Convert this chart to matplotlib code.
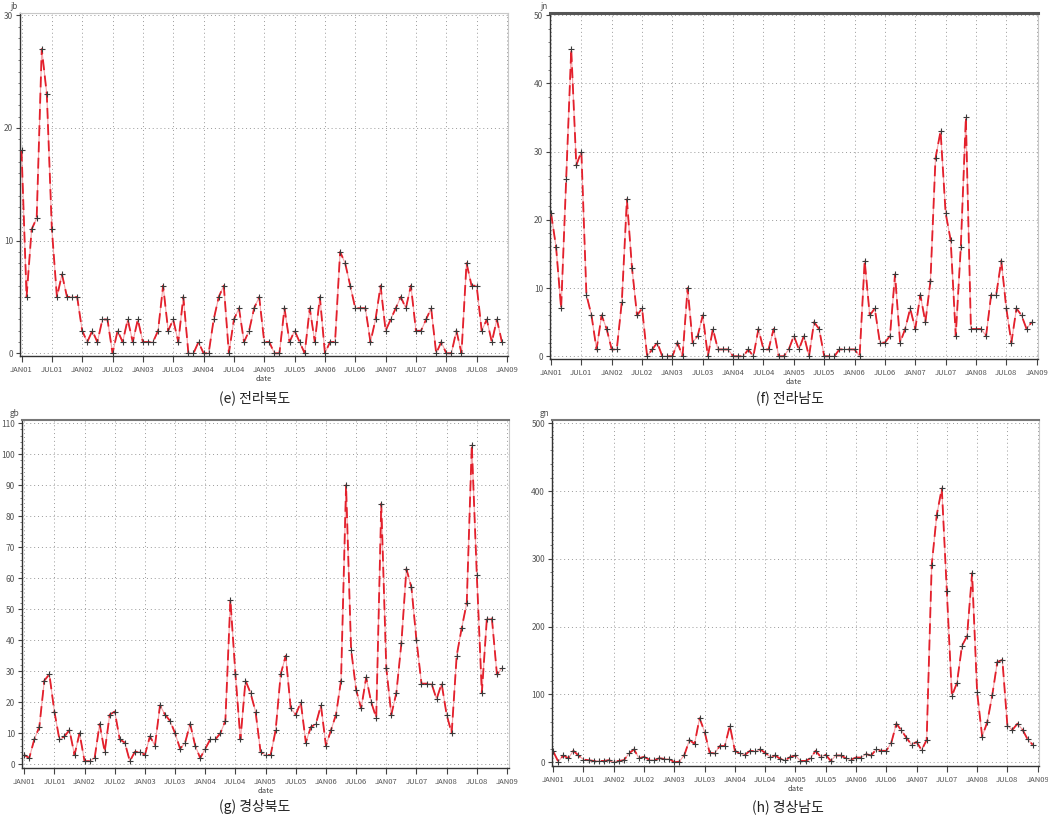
import matplotlib
matplotlib.use("Agg")
import matplotlib.pyplot as plt
from matplotlib.ticker import MultipleLocator, FixedLocator

plt.rcParams['font.family'] = ['Noto Sans CJK KR', 'DejaVu Sans']

# month index 0 = JAN01 ... 95 = DEC08
tick_pos = [0, 6, 12, 18, 24, 30, 36, 42, 48, 54, 60, 66, 72, 78, 84, 90, 96]
tick_labels = ["JAN01", "JUL01", "JAN02", "JUL02", "JAN03", "JUL03", "JAN04", "JUL04",
               "JAN05", "JUL05", "JAN06", "JUL06", "JAN07", "JUL07", "JAN08", "JUL08", "JAN09"]

jb = [18, 5, 11, 12, 27, 23, 11, 5, 7, 5, 5, 5,
      2, 1, 2, 1, 3, 3, 0, 2, 1, 3, 1, 3,
      1, 1, 1, 2, 6, 2, 3, 1, 5, 0, 0, 1,
      0, 0, 3, 5, 6, 0, 3, 4, 1, 2, 4, 5,
      1, 1, 0, 0, 4, 1, 2, 1, 0, 4, 1, 5,
      0, 1, 1, 9, 8, 6, 4, 4, 4, 1, 3, 6,
      2, 3, 4, 5, 4, 6, 2, 2, 3, 4, 0, 1,
      0, 0, 2, 0, 8, 6, 6, 2, 3, 1, 3, 1]

jn = [21, 16, 7, 26, 45, 28, 30, 9, 6, 1, 6, 4,
      1, 1, 8, 23, 13, 6, 7, 0, 1, 2, 0, 0,
      0, 2, 0, 10, 2, 3, 6, 0, 4, 1, 1, 1,
      0, 0, 0, 1, 0, 4, 1, 1, 4, 0, 0, 1,
      3, 1, 3, 0, 5, 4, 0, 0, 0, 1, 1, 1,
      1, 0, 14, 6, 7, 2, 2, 3, 12, 2, 4, 7,
      4, 9, 5, 11, 29, 33, 21, 17, 3, 16, 35, 4,
      4, 4, 3, 9, 9, 14, 7, 2, 7, 6, 4, 5]

gb = [3, 2, 8, 12, 27, 29, 17, 8, 9, 11, 3, 10,
      1, 1, 2, 13, 4, 16, 17, 8, 7, 1, 4, 4,
      3, 9, 6, 19, 16, 14, 10, 5, 7, 13, 6, 2,
      5, 8, 8, 10, 14, 53, 29, 8, 27, 23, 17, 4,
      3, 3, 11, 29, 35, 18, 16, 20, 7, 12, 13, 19,
      6, 11, 16, 27, 90, 37, 24, 18, 28, 20, 15, 84,
      31, 16, 23, 39, 63, 57, 40, 26, 26, 26, 21, 26,
      16, 10, 35, 44, 52, 103, 61, 23, 47, 47, 29, 31]

gn = [16, 1, 10, 6, 17, 10, 4, 3, 2, 2, 2, 3,
      1, 2, 3, 13, 19, 6, 8, 4, 3, 6, 5, 5,
      0, 1, 11, 33, 27, 65, 45, 14, 13, 24, 24, 54,
      17, 13, 11, 17, 16, 19, 14, 8, 10, 5, 3, 8,
      10, 2, 2, 6, 17, 8, 11, 2, 10, 10, 6, 4,
      7, 7, 12, 10, 19, 17, 17, 29, 57, 47, 36, 26,
      30, 18, 33, 291, 365, 404, 252, 98, 117, 172, 186, 279,
      103, 38, 59, 99, 148, 151, 54, 48, 57, 48, 34, 26]

panels = [
    dict(data=jb, name="jb", caption="(e) 전라북도", box=(20, 13, 508, 356),
         ylim=(-0.24, 30.2), xlim=(-0.3, 96.2), major=10, minor=1, top_lw=0.8, top_c='#c8c8c8',
         cap_xy=(255, 398)),
    dict(data=jn, name="jn", caption="(f) 전라남도", box=(550, 13, 1038, 359),
         ylim=(-0.4, 50.3), xlim=(-0.2, 96.26), major=10, minor=2, top_lw=2.2, top_c='#555555',
         cap_xy=(790, 398)),
    dict(data=gb, name="gb", caption="(g) 경상북도", box=(22, 420, 509, 768),
         ylim=(-1.2, 111), xlim=(-0.44, 96.4), major=10, minor=2, top_lw=1.5, top_c='#777777',
         cap_xy=(255, 807)),
    dict(data=gn, name="gn", caption="(h) 경상남도", box=(552, 420, 1039, 766),
         ylim=(-5.5, 505), xlim=(-0.24, 96.26), major=100, minor=20, top_lw=1.5, top_c='#777777',
         cap_xy=(788, 807)),
]

W, H = 1048, 824
fig = plt.figure(figsize=(W / 100, H / 100), dpi=100)

for p in panels:
    l, t, r, b = p["box"]
    ax = fig.add_axes([l / W, 1 - b / H, (r - l) / W, (b - t) / H])
    y = p["data"]
    x = list(range(len(y)))
    ax.plot(x, y, color='#f5a3a8', lw=0.8, zorder=2)
    ax.plot(x, y, color='#e3202c', lw=1.3, dashes=(6, 3), zorder=3)
    ax.plot(x, y, ls='none', marker='+', ms=4, mec='#3a3a3a', mew=0.8, zorder=4)
    ax.set_xlim(*p["xlim"])
    ax.set_ylim(*p["ylim"])
    ax.xaxis.set_major_locator(FixedLocator(tick_pos))
    ax.set_xticklabels(tick_labels)
    ax.yaxis.set_major_locator(MultipleLocator(p["major"]))
    ax.yaxis.set_minor_locator(MultipleLocator(p["minor"]))
    ax.grid(True, which='major', ls=(0, (1, 3)), color='#999999', lw=0.7)
    ax.tick_params(axis='x', labelsize=5.5, labelcolor='#555555', length=4, width=0.8,
                   color='#444444', pad=3)
    ax.tick_params(axis='y', which='major', labelsize=6, labelcolor='#555555', length=3,
                   width=0.8, color='#444444', pad=2)
    ax.tick_params(axis='y', which='minor', length=1.5, width=0.6, color='#666666')
    for s in ['left', 'bottom']:
        ax.spines[s].set_color('#333333')
        ax.spines[s].set_linewidth(1.0)
    ax.spines['right'].set_color('#c8c8c8')
    ax.spines['right'].set_linewidth(0.8)
    ax.spines['top'].set_color(p["top_c"])
    ax.spines['top'].set_linewidth(p["top_lw"])
    ax.set_xlabel("date", fontsize=5.5, color='#444444', labelpad=1)
    ax.text(-0.005, 1.005, p["name"], transform=ax.transAxes, fontsize=6, color='#555555',
            ha='right', va='bottom')
    cx, cy = p["cap_xy"]
    fig.text(cx / W, 1 - cy / H, p["caption"], fontsize=10, color='#222222',
             ha='center', va='center')

fig.savefig("out.png", dpi=100)
